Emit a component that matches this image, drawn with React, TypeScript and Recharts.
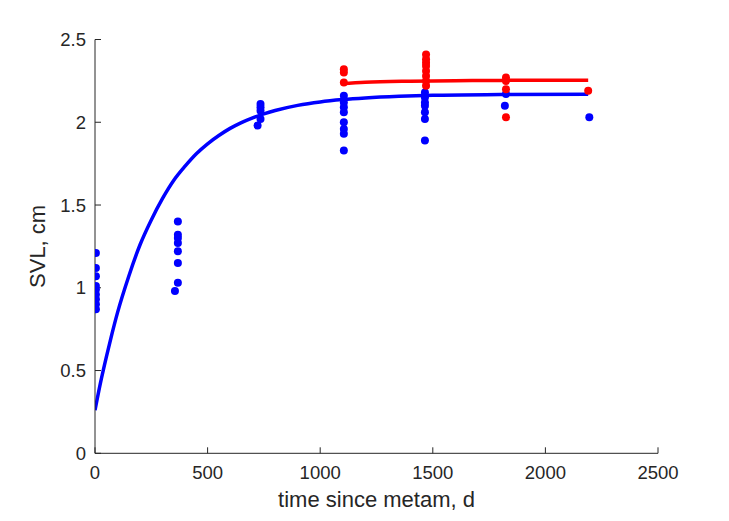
import {
  ComposedChart,
  Line,
  Scatter,
  XAxis,
  YAxis,
} from "recharts";

// observed SVL, blue group
const blueTime = [
  4, 4, 4, 4, 4, 4, 4, 4, 4,
  368, 368, 368, 368, 368, 368, 368, 355,
  735, 735, 735, 735, 722,
  1105, 1105, 1105, 1105, 1105, 1105, 1105, 1105,
  1465, 1465, 1465, 1465, 1465, 1465, 1465,
  1825, 1820,
  2195,
];
const blueSvl = [
  1.21, 1.12, 1.07, 1.01, 0.99, 0.96, 0.93, 0.9, 0.87,
  1.4, 1.32, 1.3, 1.27, 1.22, 1.15, 1.03, 0.98,
  2.11, 2.09, 2.07, 2.02, 1.98,
  2.16, 2.12, 2.09, 2.06, 2.0, 1.96, 1.93, 1.83,
  2.18, 2.15, 2.12, 2.1, 2.06, 2.02, 1.89,
  2.17, 2.1,
  2.03,
];

// observed SVL, red group
const redTime = [
  1105, 1105, 1105,
  1470, 1470, 1470, 1470, 1470, 1470, 1470, 1470,
  1825, 1825, 1825, 1825,
  2190,
];
const redSvl = [
  2.32, 2.3, 2.24,
  2.41, 2.38, 2.36, 2.34, 2.31, 2.28, 2.25, 2.22,
  2.27, 2.25, 2.2, 2.03,
  2.19,
];

// fitted curves
const fitBlueTime = [0, 25, 50, 75, 100, 150, 200, 250, 300, 350, 400, 450, 500, 550, 600, 650, 700, 750, 800, 900, 1000, 1100, 1200, 1350, 1500, 1800, 2190];
const fitBlueSvl = [0.26, 0.43, 0.58, 0.72, 0.85, 1.07, 1.26, 1.41, 1.54, 1.65, 1.735, 1.81, 1.87, 1.92, 1.963, 1.998, 2.027, 2.051, 2.071, 2.102, 2.123, 2.137, 2.147, 2.157, 2.163, 2.167, 2.169];
const fitRedTime = [1095, 1200, 1400, 1600, 1800, 2190];
const fitRedSvl = [2.232, 2.241, 2.248, 2.251, 2.253, 2.254];

const xTicks = [0, 500, 1000, 1500, 2000, 2500];
const yTicks = [0, 0.5, 1, 1.5, 2, 2.5];

const AXIS = "#262626";
const FONT = "'Liberation Sans', Arial, Helvetica, sans-serif";

const zip = (xs: number[], ys: number[]) => xs.map((x, i) => ({ x, y: ys[i] }));

const blueData = zip(blueTime, blueSvl);
const redData = zip(redTime, redSvl);
const fitBlue = zip(fitBlueTime, fitBlueSvl);
const fitRed = zip(fitRedTime, fitRedSvl);

const tickStyle = { fill: AXIS, fontSize: 18.5, fontFamily: FONT };

export default function App() {
  return (
    <ComposedChart
      width={721}
      height={513}
      margin={{ top: 31.5, right: 71, left: 10, bottom: 7.7 }}
      style={{ background: "#fff" }}
    >
      <XAxis
        type="number"
        dataKey="x"
        domain={[0, 2500]}
        ticks={xTicks}
        allowDataOverflow
        height={60}
        stroke={AXIS}
        tick={tickStyle}
        tickSize={-6}
        tickMargin={19}
        label={{
          value: "time since metam, d",
          position: "insideBottom",
          offset: 6,
          style: { fill: AXIS, fontSize: 22, fontFamily: FONT },
        }}
      />
      <YAxis
        type="number"
        dataKey="y"
        domain={[0, 2.5]}
        ticks={yTicks}
        allowDataOverflow
        width={77}
        stroke={AXIS}
        tick={tickStyle}
        tickSize={-6}
        tickMargin={15}
        label={{
          value: "SVL, cm",
          angle: -90,
          position: "insideLeft",
          offset: 19,
          style: { textAnchor: "middle", fill: AXIS, fontSize: 22, fontFamily: FONT },
        }}
      />
      <Line
        data={fitBlue}
        dataKey="y"
        type="monotone"
        stroke="#0000ff"
        strokeWidth={3.5}
        dot={false}
        isAnimationActive={false}
      />
      <Line
        data={fitRed}
        dataKey="y"
        type="monotone"
        stroke="#ff0000"
        strokeWidth={3.5}
        dot={false}
        isAnimationActive={false}
      />
      <Scatter
        data={blueData}
        dataKey="y"
        fill="#0000ff"
        shape={(p: any) => <circle cx={p.cx} cy={p.cy} r={4} fill="#0000ff" />}
        isAnimationActive={false}
      />
      <Scatter
        data={redData}
        dataKey="y"
        fill="#ff0000"
        shape={(p: any) => <circle cx={p.cx} cy={p.cy} r={4} fill="#ff0000" />}
        isAnimationActive={false}
      />
    </ComposedChart>
  );
}
